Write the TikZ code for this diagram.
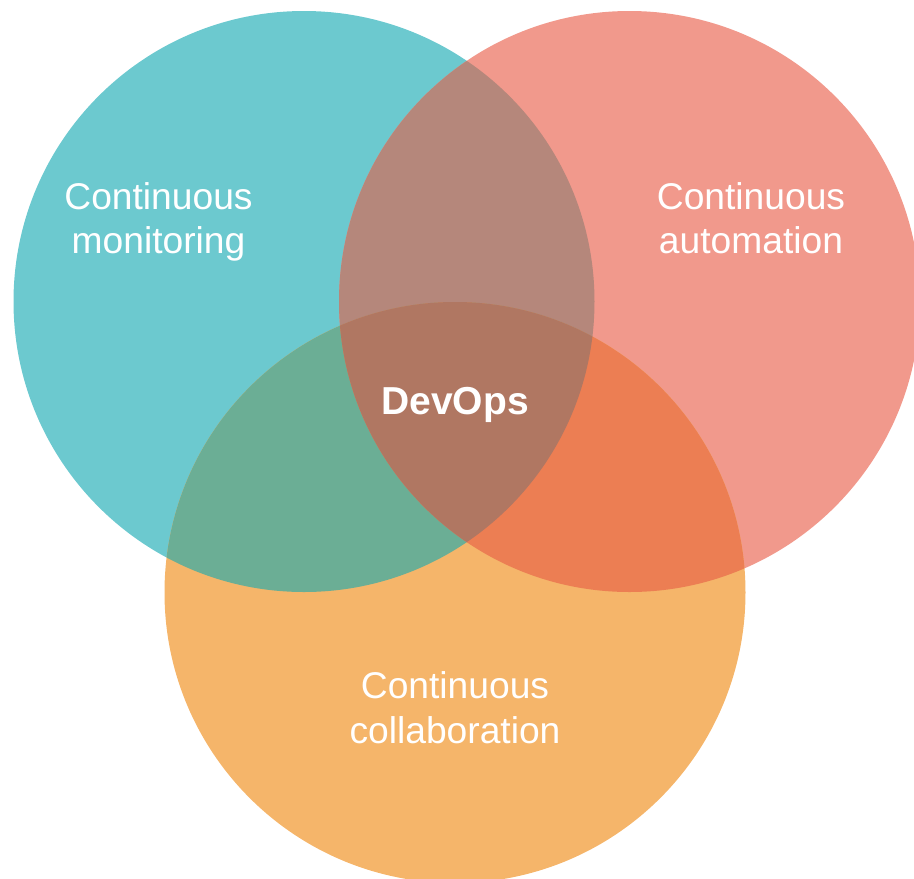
\documentclass[tikz,border=0pt]{standalone}
\usepackage{fontspec}
\setmainfont{Liberation Sans}
\definecolor{cteal}{HTML}{6CC9CF}
\definecolor{cred}{HTML}{F1998C}
\definecolor{corange}{HTML}{F5B56A}
\definecolor{ctr}{HTML}{B5877B}
\definecolor{cto}{HTML}{6BAE95}
\definecolor{cro}{HTML}{EC7E53}
\definecolor{ctro}{HTML}{B07762}
\tikzset{
  lbl/.style={text=white, inner sep=0pt, anchor=base, font=\fontsize{37.2}{45}\selectfont},
  boldlbl/.style={lbl, font=\fontsize{39}{45}\selectfont\bfseries}
}
\begin{document}
\begin{tikzpicture}[x=1pt,y=-1pt]
\useasboundingbox (0,0) rectangle (914,879);
\def\R{290.5}
\coordinate (T) at (304,301.5);
\coordinate (Rc) at (629.5,301.5);
\coordinate (O) at (455,592.5);
% base circles
\fill[cteal] (T) circle[radius=\R];
\fill[cred] (Rc) circle[radius=\R];
\fill[corange] (O) circle[radius=\R];
% pairwise overlaps
\begin{scope}
  \clip (T) circle[radius=\R];
  \fill[ctr] (Rc) circle[radius=\R];
\end{scope}
\begin{scope}
  \clip (T) circle[radius=\R];
  \fill[cto] (O) circle[radius=\R];
\end{scope}
\begin{scope}
  \clip (Rc) circle[radius=\R];
  \fill[cro] (O) circle[radius=\R];
\end{scope}
% triple overlap
\begin{scope}
  \clip (T) circle[radius=\R];
  \clip (Rc) circle[radius=\R];
  \fill[ctro] (O) circle[radius=\R];
\end{scope}
% labels
\node[lbl] (mon1) at (158.5,209) {Continuous};
\node[lbl] (mon2) at (158.5,253) {monitoring};
\node[lbl] (aut1) at (751,209) {Continuous};
\node[lbl] (aut2) at (751,253) {automation};
\node[lbl] (col1) at (455,698) {Continuous};
\node[lbl] (col2) at (455,743) {collaboration};
\node[boldlbl] (dev) at (455,414) {DevOps};
\end{tikzpicture}
\end{document}
